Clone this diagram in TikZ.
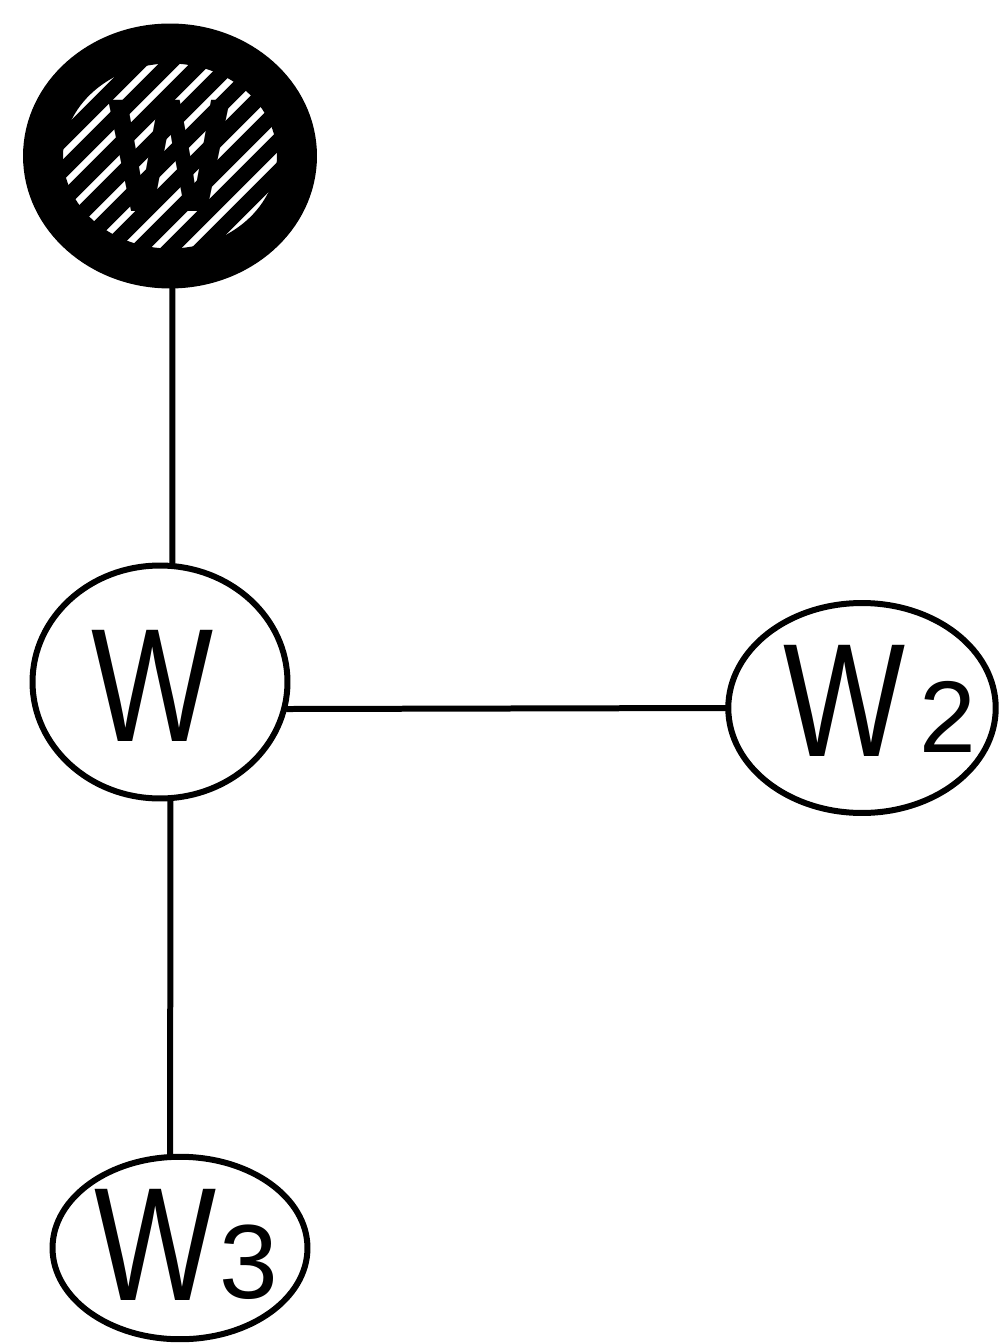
\documentclass[tikz,border=0pt]{standalone}
\usepackage{fontspec}
\setmainfont{Liberation Sans}
\usetikzlibrary{shapes.geometric}
\begin{document}
\begin{tikzpicture}[x=0.02cm,y=-0.02cm,
  wnode/.style={ellipse,draw=black,line width=0.12cm,inner sep=0pt,fill=white},
  conn/.style={line width=0.12cm,black,line cap=round},
  bigtxt/.style={font=\fontsize{92}{92}\selectfont}]
\useasboundingbox (0,0) rectangle (1007,1344);
% hatched top node
\node[ellipse,draw=black,line width=0.8cm,inner sep=0pt,
      minimum width=5.08cm,minimum height=4.5cm,
      path picture={
        \foreach \k in {-16,...,16}{
          \draw[line width=0.3cm,black]
            ([xshift=\k*0.62cm]path picture bounding box.center)
            ++(-5cm,-5cm) -- ++(10cm,10cm);
        }}] (top) at (170,156) {};
\node[bigtxt,text=black,font=\fontsize{92}{92}\selectfont\bfseries] (toplabel) at (top.center) {\scalebox{0.8}[1]{W}};
% plain nodes
\node[wnode,minimum width=5.1cm,minimum height=4.66cm] (w) at (160,682) {};
\node[bigtxt] (wlab) at (153,686) {\scalebox{0.8}[1]{W}};
\node[wnode,minimum width=5.35cm,minimum height=4.2cm] (w2) at (862,708) {};
\node[bigtxt,anchor=base west] (w2lab) at (777,756) {\scalebox{0.8}[1]{W}\hspace{8pt}\raisebox{2pt}{\fontsize{58}{58}\selectfont 2}};
\node[wnode,minimum width=5.1cm,minimum height=3.65cm] (w3) at (180,1248) {};
\node[bigtxt,anchor=base west] (w3lab) at (88,1300) {\scalebox{0.8}[1]{W}\hspace{2pt}\raisebox{1pt}{\fontsize{60}{60}\selectfont 3}};
% connectors
\draw[conn] (top.-89) -- (w.84);
\draw[conn] (w.-12) -- (w2.west);
\draw[conn] (w.-85) -- (w3.96);
\end{tikzpicture}
\end{document}
